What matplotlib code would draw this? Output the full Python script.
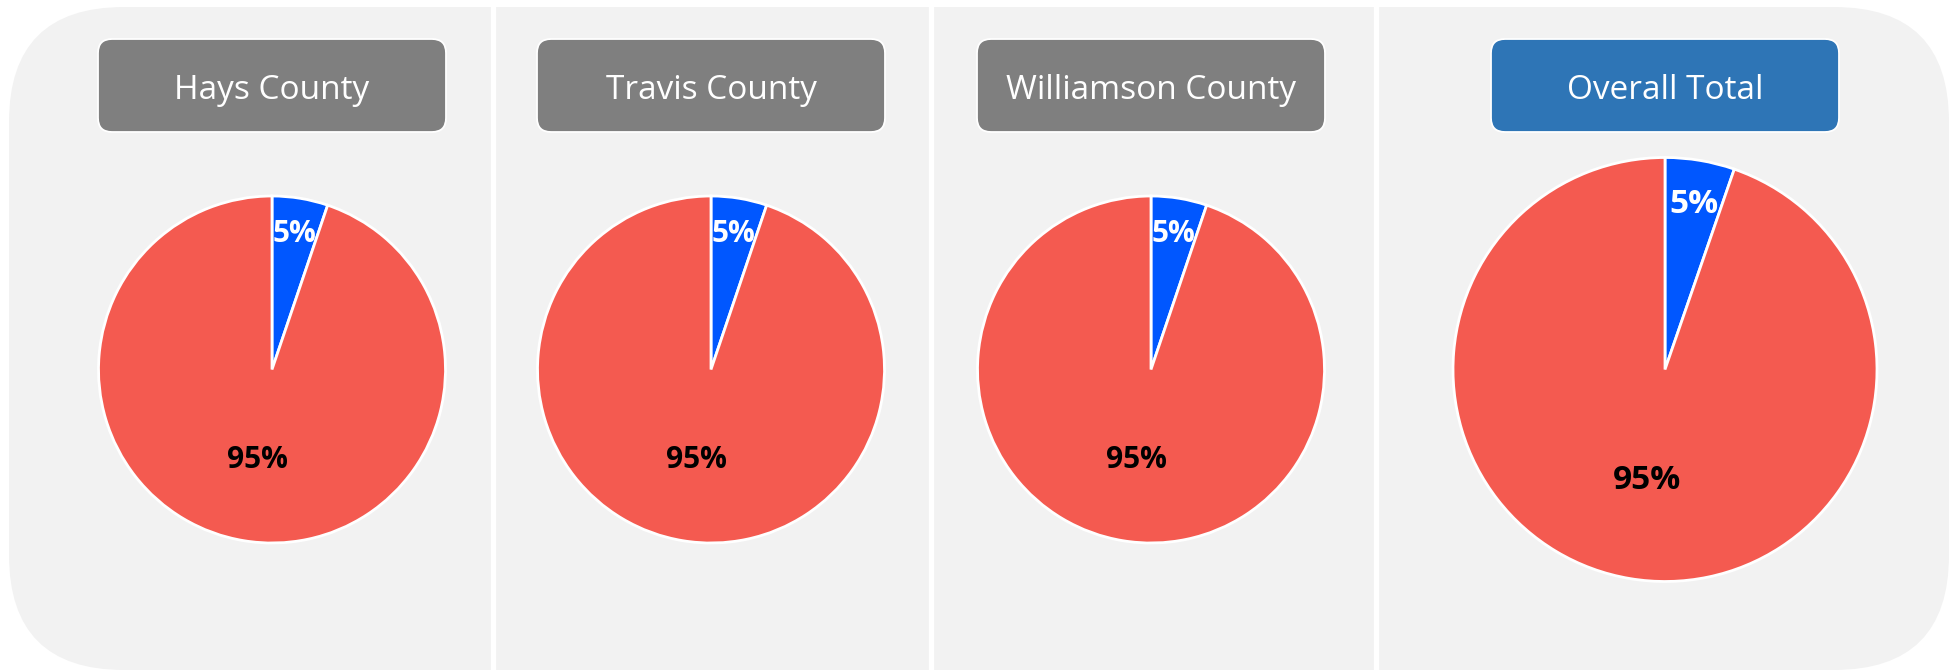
import matplotlib
matplotlib.use("Agg")
import matplotlib.pyplot as plt
from matplotlib.patches import FancyBboxPatch
import numpy as np

# ---- data ----
regions = ["Hays County", "Travis County", "Williamson County", "Overall Total"]
share_blue = [5.2, 5.2, 5.2, 5.3]
share_red = [94.8, 94.8, 94.8, 94.7]

# ---- layout (pixels, top-origin) ----
W, H = 1957, 670
centers_x = [272, 711, 1151, 1665]
center_y = 369.5
radii = [173.5, 173.5, 173.5, 212]
label_sizes = [21.5, 21.5, 21.5, 24]
box_colors = ["#7F7F7F", "#7F7F7F", "#7F7F7F", "#2E75B6"]
dividers = [492.5, 931, 1376]

BLUE = "#0057FF"
RED = "#F45A50"

plt.rcParams['font.family'] = ['Open Sans', 'DejaVu Sans']

fig = plt.figure(figsize=(W / 100, H / 100), dpi=100)
ax = fig.add_axes([0, 0, 1, 1])


def Y(y):
    return H - y


# background rounded panel
bg = FancyBboxPatch((9, Y(670)), 1940, 663,
                    boxstyle="round,pad=0,rounding_size=115",
                    fc="#F2F2F2", ec="none", zorder=0)
ax.add_patch(bg)

# white dividers
for dx in dividers:
    ax.plot([dx, dx], [0, Y(6)], color="white", lw=3.8,
            solid_capstyle="butt", zorder=1)

for i, name in enumerate(regions):
    cx = centers_x[i]
    # title box
    box = FancyBboxPatch((cx - 174, Y(132)), 348, 93,
                         boxstyle="round,pad=0,rounding_size=14",
                         fc=box_colors[i], ec="white", lw=1.3, zorder=2)
    ax.add_patch(box)
    ax.text(cx, Y(99), name, color="white", fontsize=24,
            ha="center", va="baseline", zorder=3)

    # pie
    vals = [share_blue[i], share_red[i]]
    wedges, _ = ax.pie(vals, colors=[BLUE, RED], startangle=90,
                       counterclock=False, center=(cx, Y(center_y)),
                       radius=radii[i], frame=True,
                       wedgeprops=dict(edgecolor="white", linewidth=2.0))
    for w, v, frac, col in zip(wedges, vals, [0.81, 0.51], ["white", "black"]):
        ang = np.deg2rad((w.theta1 + w.theta2) / 2)
        tx = w.center[0] + frac * w.r * np.cos(ang)
        ty = w.center[1] + frac * w.r * np.sin(ang)
        ax.text(tx, ty, f"{v:.0f}%", color=col, fontsize=label_sizes[i],
                fontweight="bold", ha="center", va="center_baseline",
                zorder=4)

ax.set_xlim(0, W)
ax.set_ylim(0, H)
ax.set_aspect("equal")
ax.axis("off")

fig.savefig("out.png", dpi=100, facecolor="white")
